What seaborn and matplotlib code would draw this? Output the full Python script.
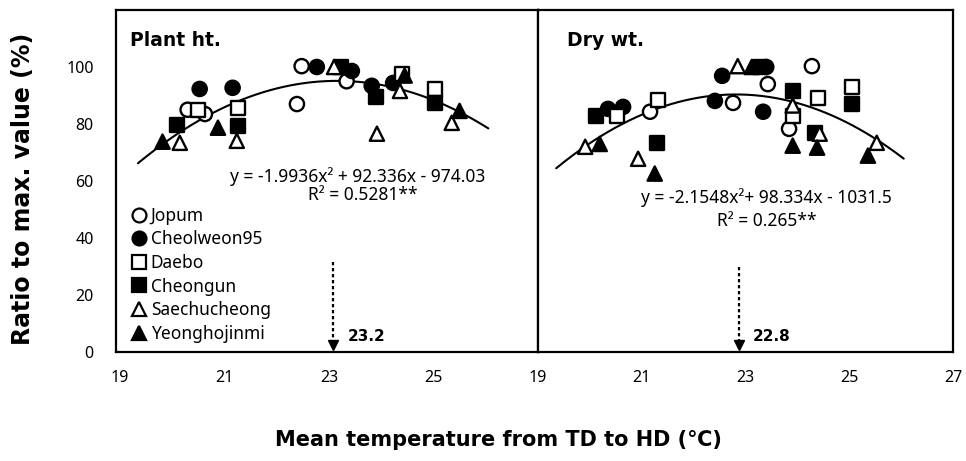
import matplotlib
matplotlib.use("Agg")
import matplotlib.pyplot as plt
from matplotlib.lines import Line2D
import seaborn as sns
import numpy as np
import pandas as pd

sns.set_theme(style="white")
plt.rcParams['font.family'] = ['Noto Sans', 'DejaVu Sans']
plt.rcParams['text.color'] = 'black'
plt.rcParams['xtick.color'] = 'black'
plt.rcParams['ytick.color'] = 'black'

cultivars = ["Jopum", "Cheolweon95", "Daebo", "Cheongun", "Saechucheong", "Yeonghojinmi"]

# Plant height panel: (x = mean temperature, y = ratio to max value)
ph_jopum_x = [20.30, 20.63, 22.39, 22.48, 23.34]
ph_jopum_y = [85.0, 83.5, 87.0, 100.3, 95.0]
ph_cheol_x = [20.53, 21.16, 22.77, 23.44, 23.82, 24.23]
ph_cheol_y = [92.3, 92.7, 100.0, 98.6, 93.4, 94.4]
ph_daebo_x = [20.50, 21.26, 24.40, 25.03]
ph_daebo_y = [85.0, 85.7, 97.5, 92.3]
ph_cheongun_x = [20.09, 21.26, 23.24, 23.90, 25.03]
ph_cheongun_y = [79.7, 79.4, 100.0, 89.5, 87.4]
ph_saechu_x = [20.15, 21.24, 23.10, 23.92, 24.36, 25.35]
ph_saechu_y = [73.4, 74.1, 100.0, 76.6, 91.6, 80.4]
ph_yeong_x = [19.82, 20.88, 24.45, 25.50]
ph_yeong_y = [73.8, 78.7, 97.0, 84.6]

# Dry weight panel
dw_jopum_x = [21.16, 22.76, 23.43, 23.84, 24.28]
dw_jopum_y = [84.3, 87.4, 94.0, 78.3, 100.3]
dw_cheol_x = [20.35, 20.64, 22.41, 22.55, 23.40, 23.34]
dw_cheol_y = [85.3, 86.0, 88.1, 96.9, 100.0, 84.3]
dw_daebo_x = [20.52, 21.31, 23.91, 24.40, 25.05]
dw_daebo_y = [82.9, 88.5, 82.9, 89.2, 93.0]
dw_cheongun_x = [20.12, 21.29, 23.28, 23.91, 24.34, 25.05]
dw_cheongun_y = [82.9, 73.4, 100.0, 91.6, 76.9, 87.0]
dw_saechu_x = [19.91, 20.93, 22.85, 23.91, 24.43, 25.53]
dw_saechu_y = [72.0, 67.8, 100.3, 86.5, 76.6, 73.4]
dw_yeong_x = [20.19, 21.25, 23.12, 23.91, 24.38, 25.36]
dw_yeong_y = [73.0, 62.6, 100.0, 72.4, 71.7, 68.9]

# trend-line coefficients (a, b, c) for y = a x^2 + b x + c
ph_coef = [-1.9936, 92.336, -974.03]
dw_coef = [-2.1548, 98.334, -1031.5]
ph_optimum = 23.2
dw_optimum = 22.8

panel_titles = ["Plant ht.", "Dry wt."]
eq_texts = ["y = -1.9936x² + 92.336x - 974.03", "y = -2.1548x²+ 98.334x - 1031.5"]
r2_texts = ["R² = 0.5281**", "R² = 0.265**"]

face = {"Jopum": "white", "Cheolweon95": "black", "Daebo": "white",
        "Cheongun": "black", "Saechucheong": "white", "Yeonghojinmi": "black"}
mk = {"Jopum": "o", "Cheolweon95": "o", "Daebo": "s",
      "Cheongun": "s", "Saechucheong": "^", "Yeonghojinmi": "^"}

BOLD = ['DejaVu Sans']


def make_df(xs, ys):
    rows = []
    for c, x, y in zip(cultivars, xs, ys):
        for xi, yi in zip(x, y):
            rows.append((c, xi, yi))
    return pd.DataFrame(rows, columns=["cultivar", "temp", "ratio"])


df_ph = make_df([ph_jopum_x, ph_cheol_x, ph_daebo_x, ph_cheongun_x, ph_saechu_x, ph_yeong_x],
                [ph_jopum_y, ph_cheol_y, ph_daebo_y, ph_cheongun_y, ph_saechu_y, ph_yeong_y])
df_dw = make_df([dw_jopum_x, dw_cheol_x, dw_daebo_x, dw_cheongun_x, dw_saechu_x, dw_yeong_x],
                [dw_jopum_y, dw_cheol_y, dw_daebo_y, dw_cheongun_y, dw_saechu_y, dw_yeong_y])

fig = plt.figure(figsize=(9.66, 4.61), dpi=100)
ax1 = fig.add_axes([116/966, 109/461, 422/966, 342/461])
ax2 = fig.add_axes([538/966, 109/461, 415/966, 342/461])

settings = [
    (ax1, df_ph, ph_coef, ph_optimum, (18.93, 27), [19, 21, 23, 25], (23.55, 61.5), (23.65, 55.0),
     (23.36, 5.5), 23.08, 0.033),
    (ax2, df_dw, dw_coef, dw_optimum, (19, 27), [19, 21, 23, 25, 27], (23.41, 54.3), (23.42, 45.8),
     (23.14, 5.5), 22.87, 0.07),
]

for i, (ax, df, coef, opt, xl, xt, eqpos, r2pos, optpos, arrx, tx) in enumerate(settings):
    xs = np.linspace(19.35, 26.05, 200)
    ys = coef[0] * xs**2 + coef[1] * xs + coef[2]
    ax.plot(xs, ys, color="black", lw=1.5, zorder=1)
    sns.scatterplot(data=df, x="temp", y="ratio", hue="cultivar", style="cultivar",
                    hue_order=cultivars, style_order=cultivars,
                    palette=face, markers=mk, s=105, edgecolor="black", linewidth=1.7,
                    legend=False, ax=ax, zorder=3)
    ax.set_xlim(*xl)
    ax.set_ylim(0, 120)
    ax.set_xticks(xt)
    ax.set_xticklabels([str(v) for v in xt], fontsize=11.5)
    ax.set_xlabel("")
    ax.set_ylabel("")
    for s in ax.spines.values():
        s.set_visible(True)
        s.set_color("black")
        s.set_linewidth(1.6)
    ax.tick_params(axis="x", length=0, pad=13)
    ax.text(tx, 0.91, panel_titles[i], transform=ax.transAxes,
            fontsize=13.5, fontweight="bold", ha="left", va="center", family=BOLD)
    ax.text(eqpos[0], eqpos[1], eq_texts[i], fontsize=12.5, ha="center", va="center")
    ax.text(r2pos[0], r2pos[1], r2_texts[i], fontsize=12.5, ha="center", va="center")
    # dotted arrow to the optimum
    top = 31.5 if i == 0 else 30.0
    ax.plot([arrx, arrx], [top, 4], ls=(0, (1.5, 1.2)), color="black", lw=1.6, zorder=2)
    ax.plot([arrx], [2.3], marker="v", color="black", ms=7, zorder=2)
    ax.text(optpos[0], optpos[1], f"{opt}", fontsize=11, fontweight="bold", ha="left",
            va="center", family=BOLD)

ax1.set_yticks([0, 20, 40, 60, 80, 100])
ax1.set_yticklabels(["0", "20", "40", "60", "80", "100"], fontsize=11.5)
ax1.tick_params(axis="y", length=0, pad=16)
ax2.set_yticks([])

handles = [Line2D([], [], ls="none", marker=mk[c], markerfacecolor=face[c], markeredgecolor="black",
                  markeredgewidth=1.6, markersize=10, label=c) for c in cultivars]
leg = ax1.legend(handles=handles, loc="upper left", bbox_to_anchor=(0.0, 0.47), frameon=False,
                 fontsize=12.5, handlelength=0.8, handletextpad=0.3, labelspacing=0.32,
                 borderaxespad=0.5)

fig.text(23 / 966, 1 - 189 / 461, "Ratio to max. value (%)", rotation=90, fontsize=17,
         fontweight="bold", ha="center", va="center", family=BOLD)
fig.text(498 / 966, 1 - 440 / 461, "Mean temperature from TD to HD (℃)", fontsize=15,
         fontweight="bold", ha="center", va="center", family=BOLD)

fig.savefig("out.png", dpi=100)
